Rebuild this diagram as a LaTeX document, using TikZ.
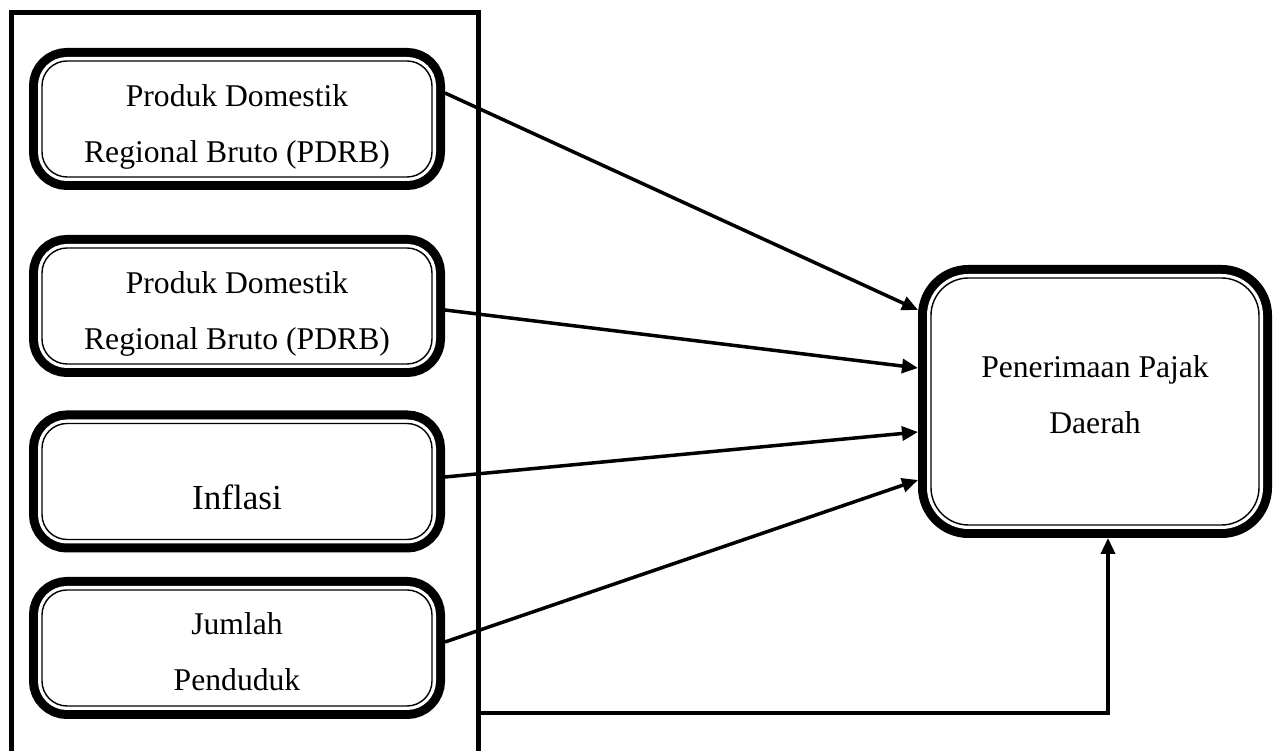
\documentclass[tikz,border=0pt]{standalone}
\usepackage{fontspec}
\setmainfont{Liberation Serif}
\usetikzlibrary{arrows.meta, positioning}

\tikzset{
  varbox/.style={rectangle, rounded corners=0.5cm, draw=black, line width=0.8pt, fill=white,
    align=center, minimum width=7.8cm, minimum height=2.32cm, outer sep=0.26cm,
    font=\fontsize{18}{31.7}\selectfont,
    preaction={draw=black, line width=0.52cm},
    preaction={draw=white, line width=0.16cm}},
  conn/.style={line width=0.07cm, -{Triangle[length=0.32cm, width=0.28cm]}}
}

\begin{document}
\begin{tikzpicture}
\useasboundingbox (0,0) rectangle (25.62,15.02);
% Independent variables inside the frame
\node[draw, line width=0.1cm, minimum width=9.32cm, minimum height=15.54cm, inner sep=0pt] (frame) at (4.90,6.99) {};
\node[varbox] (pdrb1) at (4.74,12.64) {\rule{0pt}{21.3pt}Produk Domestik\\Regional Bruto (PDRB)};
\node[varbox] (pdrb2) at (4.74,8.90) {\rule{0pt}{21.3pt}Produk Domestik\\Regional Bruto (PDRB)};
\node[varbox, font=\fontsize{20}{31.7}\selectfont, text height=1.12cm, text depth=0pt] (inflasi) at (4.74,5.39) {Inflasi};
\node[varbox] (penduduk) at (4.74,2.06) {\rule{0pt}{17pt}Jumlah\\Penduduk};
% Dependent variable
\node[varbox, rounded corners=0.75cm, minimum width=6.56cm, minimum height=4.94cm] (pajak) at (21.9,6.99) {Penerimaan Pajak\\Daerah\rule[-8pt]{0pt}{8pt}};
\coordinate (bend) at (22.16,0.76);

\draw[conn] ([yshift=0.52cm]pdrb1.east) -- ([yshift=1.83cm]pajak.west);
\draw[conn] ([yshift=-0.08cm]pdrb2.east) -- ([yshift=0.67cm]pajak.west);
\draw[conn] ([yshift=0.09cm]inflasi.east) -- ([yshift=-0.61cm]pajak.west);
\draw[conn] ([yshift=0.12cm]penduduk.east) -- ([yshift=-1.57cm]pajak.west);
\draw[conn] (frame.east |- bend) -- (bend) -- (bend |- pajak.south);
\end{tikzpicture}
\end{document}
